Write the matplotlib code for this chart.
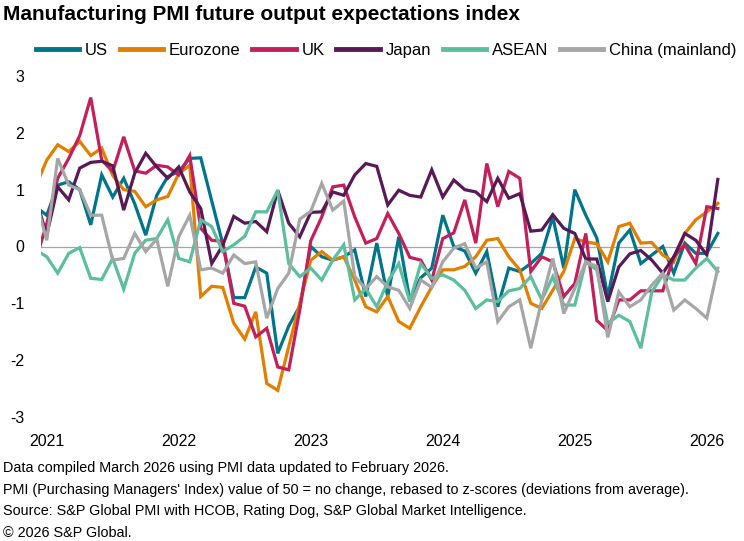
import numpy as np
import pandas as pd
import matplotlib
matplotlib.use("Agg")
import matplotlib.pyplot as plt

plt.rcParams['font.family'] = ['Liberation Sans', 'DejaVu Sans']

# monthly, Dec 2020 (clipped at left edge) to Feb 2026
months = pd.date_range('2020-12-01', '2026-02-01', freq='MS')

us = [0.7, 0.55, 1.08, 1.14, 1.0, 0.38, 1.26, 0.87, 1.2, 0.75, 0.2, 0.9, 1.23,
      1.32, 1.55, 1.56, 0.8, 0.05, -0.9, -0.9, -0.36, -0.47, -1.88, -1.4, -1.05,
      0.0, -0.18, -0.24, -0.18, -0.06, -0.88, 0.06, -0.88, 0.17, -0.94, -0.55, -0.38,
      0.55, 0.0, -0.08, -0.47, -0.09, -1.06, -0.38, -0.44, -0.3, -0.12, 0.52, -0.38,
      1.0, 0.55, 0.15, -0.88, 0.06, 0.29, -0.3, -0.15, 0.0, -0.47, 0.06, -0.12, -0.12, 0.23]
eurozone = [1.06, 1.52, 1.79, 1.67, 1.85, 1.6, 1.73, 1.25, 1.0, 0.97, 0.7, 0.82, 0.88,
            1.28, 1.43, -0.88, -0.7, -0.72, -1.35, -1.63, -1.15, -2.41, -2.53, -1.76, -1.0,
            -0.24, -0.09, -0.24, -0.18, -0.59, -1.06, -1.15, -0.88, -1.32, -1.44, -1.06, -0.71,
            -0.41, -0.41, -0.35, -0.18, 0.11, 0.14, -0.18, -0.41, -1.0, -1.09, -0.77, -0.44,
            0.14, 0.08, 0.05, -0.27, 0.35, 0.41, 0.06, 0.07, -0.15, -0.27, 0.23, 0.47, 0.61, 0.76]
uk = [-0.24, 0.4, 1.2, 1.55, 1.95, 2.62, 1.52, 1.32, 1.93, 1.33, 1.29, 1.43, 1.4,
      1.26, 1.6, 0.32, 0.11, 0.09, -1.0, -1.05, -1.59, -1.44, -2.12, -2.17, -1.12,
      0.1, 0.52, 1.05, 1.08, 0.52, 0.06, 0.14, 0.58, 0.23, -0.19, -0.24, -0.59,
      0.14, 0.24, 0.82, 0.06, 1.46, 0.7, 1.32, 1.2, -0.44, -0.18, -0.27, -0.88,
      -0.65, 0.23, -1.3, -1.48, -0.94, -0.94, -0.78, -0.78, -0.78, -0.18, 0.03, -0.3, 0.7, 0.67]
japan = [0.85, 0.2, 1.05, 0.82, 1.38, 1.48, 1.5, 1.42, 0.64, 1.29, 1.64, 1.4, 1.2,
         1.4, 0.96, 0.67, -0.3, 0.02, 0.53, 0.41, 0.44, 0.26, 0.99, 0.41, 0.17,
         0.6, 0.61, 0.96, 0.9, 1.26, 1.46, 1.41, 0.73, 0.99, 0.9, 0.87, 1.35,
         0.87, 1.17, 1.0, 0.96, 0.79, 1.2, 0.85, 0.93, 0.27, 0.29, 0.56, 0.32,
         0.23, -0.22, -0.22, -0.97, -0.36, -0.13, -0.07, -0.24, -0.47, -0.18, 0.23, 0.11, -0.15, 1.18]
asean = [-0.06, -0.18, -0.47, -0.12, -0.02, -0.56, -0.58, -0.21, -0.75, -0.12, 0.11, 0.14, 0.47,
         -0.21, -0.27, 0.47, 0.35, -0.09, 0.03, 0.18, 0.61, 0.61, 0.99, -0.3, -0.53,
         -0.38, -0.59, -0.24, 0.03, -0.94, -0.74, -1.06, -0.62, -0.3, -0.97, -0.3, -0.56,
         -0.5, -0.59, -0.77, -1.09, -0.94, -0.97, -0.78, -0.74, -0.53, -0.94, -0.53, -1.03,
         -1.03, -0.27, -0.41, -1.35, -1.21, -1.32, -1.79, -0.8, -0.5, -0.59, -0.59, -0.38, -0.21, -0.44]
china = [0.83, 0.11, 1.55, 1.08, 1.0, 0.55, 0.55, -0.24, -0.21, 0.23, -0.09, 0.13, -0.7,
         0.17, 0.55, -0.41, -0.38, -0.47, -0.15, -0.3, -0.27, -1.26, -0.74, -0.47, 0.48,
         0.62, 1.11, 0.64, 0.8, -0.53, -0.74, -0.53, -0.71, -0.77, -1.09, -0.59, -0.72,
         -0.27, -0.03, 0.05, -0.38, -0.27, -1.32, -1.06, -0.94, -1.79, -0.94, -0.21, -1.18,
         -0.74, -0.27, -0.35, -1.6, -0.8, -1.06, -0.94, -0.68, -0.47, -1.12, -0.94, -1.09, -1.26, -0.38]

names = ['US', 'Eurozone', 'UK', 'Japan', 'ASEAN', 'China (mainland)']
colors = ['#00748a', '#e27f00', '#c41f5b', '#581a57', '#5bbf9f', '#a6a6a6']

x = np.arange(len(months)) - 1  # Jan 2021 = 0

W, H = 744, 541
fig = plt.figure(figsize=(W / 100, H / 100), dpi=100)
ax = fig.add_axes([41 / W, 1 - 417 / H, 679 / W, 341 / H])

ax.axhline(0, color='#a6a6a6', lw=0.9, zorder=1)
for vals, name, c in zip([us, eurozone, uk, japan, asean, china], names, colors):
    ax.plot(x, vals, color=c, lw=2.3, label=name, solid_joinstyle='miter', zorder=2)

ax.set_xlim(-0.52, 61.2)
ax.set_ylim(-3, 3)
ax.set_yticks(range(-3, 4))
ax.set_yticklabels([str(v) for v in range(-3, 4)])
jan = [i for i, m in zip(x, months) if m.month == 1]
ax.set_xticks(jan)
ax.set_xticklabels([str(m.year) for m in months if m.month == 1])
ax.tick_params(axis='both', length=0, labelsize=11.5, colors='black')
ax.tick_params(axis='y', pad=12)
ax.tick_params(axis='x', pad=12)
for s in ax.spines.values():
    s.set_visible(False)

leg = fig.legend(loc='center left', bbox_to_anchor=(36 / W, 1 - 50 / H), ncol=6,
                 frameon=False, fontsize=12, handlelength=2.6, handletextpad=0.35,
                 columnspacing=0.7, borderpad=0, borderaxespad=0)
for line in leg.get_lines():
    line.set_linewidth(3.5)

fig.text(3 / W, 1 - 14 / H, 'Manufacturing PMI future output expectations index',
         fontsize=15, fontweight='bold', va='center', ha='left')

notes = ['Data compiled March 2026 using PMI data updated to February 2026.',
         "PMI (Purchasing Managers' Index) value of 50 = no change, rebased to z-scores (deviations from average).",
         'Source: S&P Global PMI with HCOB, Rating Dog, S&P Global Market Intelligence.',
         '\u00a9 2026 S&P Global.']
for k, t in enumerate(notes):
    fig.text(3 / W, 1 - (468 + 21.7 * k) / H, t, fontsize=10.4, va='center', ha='left')

fig.savefig('out.png', dpi=100)
